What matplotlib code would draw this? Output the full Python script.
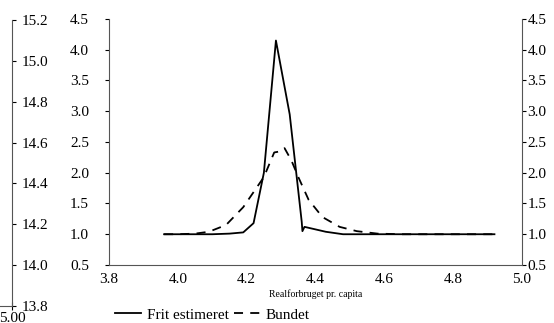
import matplotlib
matplotlib.use("Agg")
import matplotlib.pyplot as plt
from matplotlib.ticker import FormatStrFormatter, MultipleLocator

plt.rcParams["font.family"] = ["Liberation Serif", "DejaVu Serif"]

# Frit estimeret (solid)
frit_x = [3.96, 4.00, 4.05, 4.10, 4.15, 4.19, 4.22, 4.25, 4.285, 4.32, 4.325,
          4.36, 4.362, 4.368, 4.43, 4.48, 4.55, 4.60, 4.70, 4.80, 4.92]
frit_y = [1.00, 1.00, 1.00, 1.00, 1.01, 1.03, 1.18, 2.00, 4.15, 3.10, 2.95,
          1.20, 1.05, 1.12, 1.04, 1.00, 1.00, 1.00, 1.00, 1.00, 1.00]

# Bundet (dashed)
bundet_x = [3.96, 4.00, 4.05, 4.09, 4.14, 4.19, 4.25, 4.28, 4.30, 4.31, 4.33,
            4.35, 4.38, 4.42, 4.47, 4.52, 4.58, 4.65, 4.75, 4.85, 4.92]
bundet_y = [1.00, 1.00, 1.01, 1.04, 1.15, 1.44, 1.93, 2.33, 2.35, 2.40, 2.20,
            1.93, 1.56, 1.28, 1.12, 1.05, 1.01, 1.00, 1.00, 1.00, 1.00]

y_ticks = [0.5, 1.0, 1.5, 2.0, 2.5, 3.0, 3.5, 4.0, 4.5]
x_ticks = [3.8, 4.0, 4.2, 4.4, 4.6, 4.8, 5.0]

spine_col = "#555555"

fig = plt.figure(figsize=(5.54, 3.23), dpi=100)

# leftover axis from another panel, mostly cut off at the left edge
bg = fig.add_axes([-0.5, 0.0526, 0.5217, 0.8854])
bg.set_ylim(13.8, 15.2)
bg.set_xlim(4.0, 5.0)
bg.yaxis.set_major_locator(MultipleLocator(0.2))
bg.yaxis.set_major_formatter(FormatStrFormatter("%.1f"))
bg.set_xticks([5.0])
bg.xaxis.set_major_formatter(FormatStrFormatter("%.2f"))
bg.yaxis.tick_right()
for s in ["top", "left"]:
    bg.spines[s].set_visible(False)
for s in ["right", "bottom"]:
    bg.spines[s].set_color(spine_col)
bg.tick_params(axis="y", direction="out", length=3, pad=4, labelsize=11,
               colors="black")
bg.tick_params(axis="x", direction="inout", length=6, pad=1, labelsize=11)
bg.patch.set_visible(False)

ax = fig.add_axes([0.1968, 0.1796, 0.7454, 0.7616])
ax.plot(frit_x, frit_y, color="black", lw=1.3, label="Frit estimeret")
ax.plot(bundet_x, bundet_y, color="black", lw=1.3, dashes=(5, 4),
        label="Bundet")

ax.set_xlim(3.8, 5.0)
ax.set_ylim(0.5, 4.5)
ax.set_xticks(x_ticks)
ax.set_yticks(y_ticks)
ax.xaxis.set_major_formatter(FormatStrFormatter("%.1f"))
ax.yaxis.set_major_formatter(FormatStrFormatter("%.1f"))
ax.spines["top"].set_visible(False)
for s in ["left", "right", "bottom"]:
    ax.spines[s].set_color(spine_col)
ax.tick_params(axis="y", which="both", left=True, right=True,
               labelleft=True, labelright=True, direction="out", length=3,
               labelsize=11)
for t in ax.yaxis.get_major_ticks():
    t.tick1line.set_markersize(4)
    t.label1.set_x(-0.035)
    t.set_pad(1)
ax.tick_params(axis="x", length=0, pad=6, labelsize=11)
ax.set_xlabel("Realforbruget pr. capita", fontsize=7, labelpad=2)

ax.legend(loc="upper center", bbox_to_anchor=(0.25, -0.15), ncol=2,
          frameon=False, fontsize=11, handlelength=1.7, handletextpad=0.35,
          columnspacing=0.35, borderaxespad=0)

fig.savefig("out.png", dpi=100)
